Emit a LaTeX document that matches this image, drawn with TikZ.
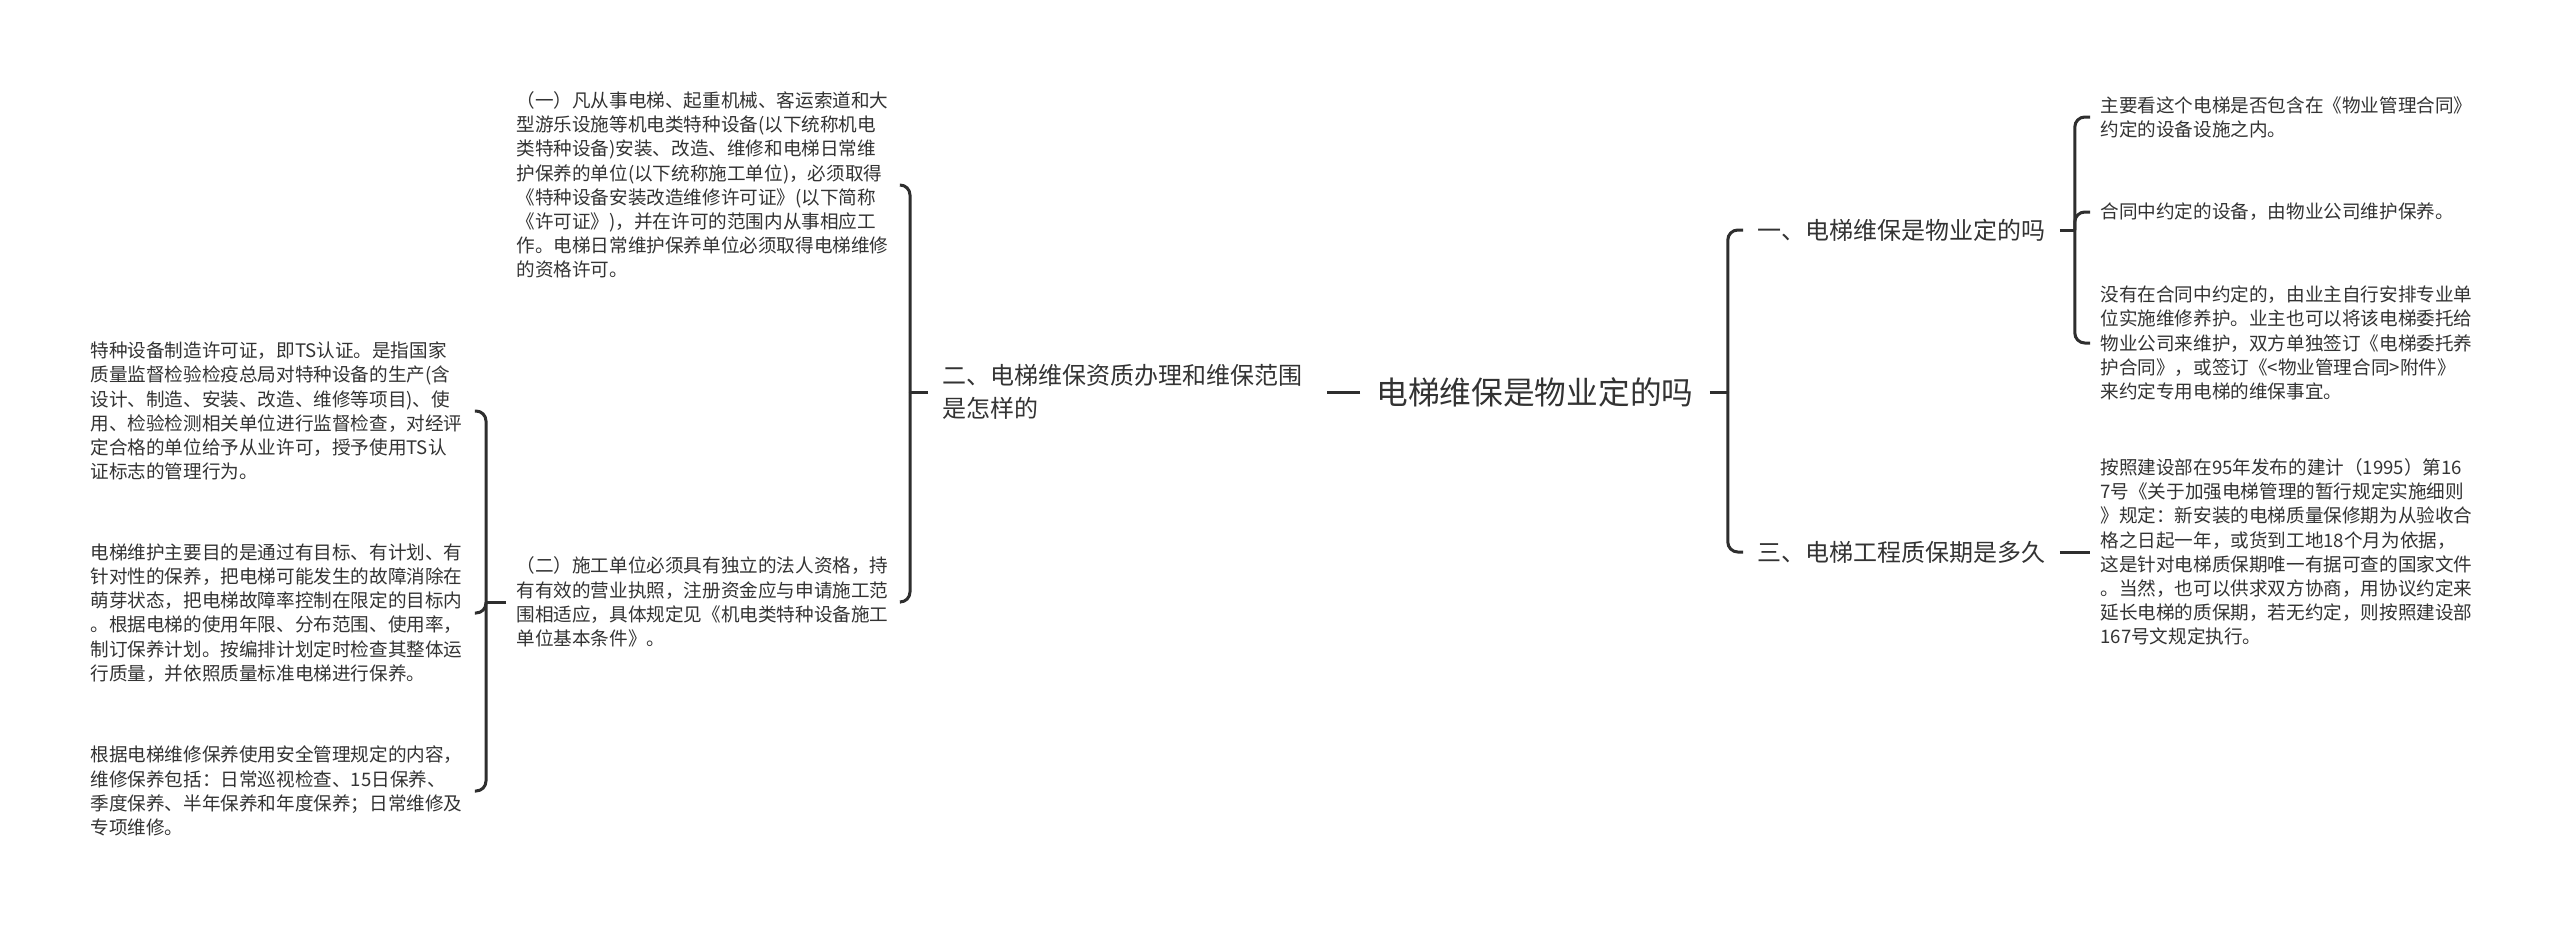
\documentclass[tikz,border=0pt]{standalone}
\usepackage{fontspec}
\setmainfont{Noto Sans CJK SC}
\usepackage{xcolor}
\definecolor{txtgray}{HTML}{333333}
\definecolor{linegray}{HTML}{2E2E2E}

\begin{document}
\begin{tikzpicture}[x=0.5pt,y=-0.5pt,
    leaf/.style={anchor=west,inner xsep=5pt,inner ysep=0pt,text width=187pt,align=left,text=txtgray,font=\fontsize{9.3pt}{12.1pt}\selectfont},
    topic/.style={anchor=west,inner xsep=7pt,inner ysep=0pt,align=left,text=txtgray,font=\fontsize{12pt}{16.3pt}\selectfont},
    rootbox/.style={anchor=west,inner xsep=8pt,inner ysep=0pt,text=txtgray,font=\fontsize{15.85pt}{19pt}\selectfont},
    link/.style={draw=linegray,line width=1.5pt,rounded corners=5pt}]
    \useasboundingbox[fill=white] (0,0) rectangle (2560,927);

    \node[rootbox] (root) at (1360,392) {电梯维保是物业定的吗};

    \node[topic,text width=185pt] (er) at (928,392) {二、电梯维保资质办理和维保范围\\是怎样的};
    \node[topic] (yi) at (1743,230) {一、电梯维保是物业定的吗};
    \node[topic] (san) at (1743,552) {三、电梯工程质保期是多久};

    \node[leaf] (p1) at (506,185) {（一）凡从事电梯、起重机械、客运索道和大\\型游乐设施等机电类特种设备(以下统称机电\\类特种设备)安装、改造、维修和电梯日常维\\护保养的单位(以下统称施工单位)，必须取得\\《特种设备安装改造维修许可证》(以下简称\\《许可证》)，并在许可的范围内从事相应工\\作。电梯日常维护保养单位必须取得电梯维修\\的资格许可。};
    \node[leaf] (p2) at (506,602) {（二）施工单位必须具有独立的法人资格，持\\有有效的营业执照，注册资金应与申请施工范\\围相适应，具体规定见《机电类特种设备施工\\单位基本条件》。};

    \node[leaf] (la) at (80,411) {特种设备制造许可证，即TS认证。是指国家\\质量监督检验检疫总局对特种设备的生产(含\\设计、制造、安装、改造、维修等项目)、使\\用、检验检测相关单位进行监督检查，对经评\\定合格的单位给予从业许可，授予使用TS认\\证标志的管理行为。};
    \node[leaf] (lb) at (80,613) {电梯维护主要目的是通过有目标、有计划、有\\针对性的保养，把电梯可能发生的故障消除在\\萌芽状态，把电梯故障率控制在限定的目标内\\。根据电梯的使用年限、分布范围、使用率，\\制订保养计划。按编排计划定时检查其整体运\\行质量，并依照质量标准电梯进行保养。};
    \node[leaf] (lc) at (80,791) {根据电梯维修保养使用安全管理规定的内容，\\维修保养包括：日常巡视检查、15日保养、\\季度保养、半年保养和年度保养；日常维修及\\专项维修。};

    \node[leaf] (r1) at (2090,117) {主要看这个电梯是否包含在《物业管理合同》\\约定的设备设施之内。};
    \node[leaf] (r2) at (2090,212) {合同中约定的设备，由物业公司维护保养。};
    \node[leaf] (r3) at (2090,343) {没有在合同中约定的，由业主自行安排专业单\\位实施维修养护。业主也可以将该电梯委托给\\物业公司来维护，双方单独签订《电梯委托养\\护合同》，或签订《<物业管理合同>附件》\\来约定专用电梯的维保事宜。};
    \node[leaf] (r4) at (2090,552) {按照建设部在95年发布的建计（1995）第16\\7号《关于加强电梯管理的暂行规定实施细则\\》规定：新安装的电梯质量保修期为从验收合\\格之日起一年，或货到工地18个月为依据，\\这是针对电梯质保期唯一有据可查的国家文件\\。当然，也可以供求双方协商，用协议约定来\\延长电梯的质保期，若无约定，则按照建设部\\167号文规定执行。};

    \draw[link] (root.west) -- (er.east);
    \draw[link] (root.east) -- ++(18,0) coordinate (rb);
    \draw[link] (rb) |- (yi.west);
    \draw[link] (rb) |- (san.west);

    \draw[link] (er.west) -- ++(-18,0) coordinate (eb);
    \draw[link] (eb) |- (p1.east);
    \draw[link] (eb) |- (p2.east);

    \draw[link] (p2.west) -- ++(-20,0) coordinate (pb);
    \draw[link] (pb) |- (la.east);
    \draw[link] (pb) |- (lb.east);
    \draw[link] (pb) |- (lc.east);

    \draw[link] (yi.east) -- ++(15,0) coordinate (yb);
    \draw[link] (yb) |- (r1.west);
    \draw[link] (yb) |- (r2.west);
    \draw[link] (yb) |- (r3.west);

    \draw[link] (san.east) -- (r4.west);
\end{tikzpicture}
\end{document}
